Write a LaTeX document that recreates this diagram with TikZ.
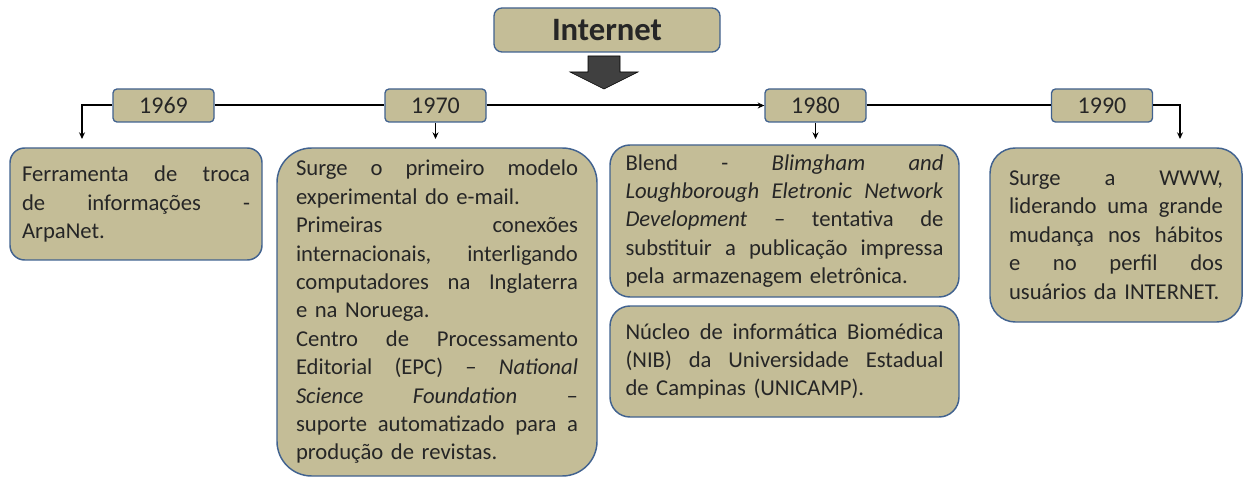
\documentclass[tikz,border=0pt]{standalone}
\usepackage{fontspec}
\setmainfont{Carlito}
\usetikzlibrary{arrows.meta}
\definecolor{tanfill}{HTML}{C4BD97}
\definecolor{bord}{HTML}{41628F}
\definecolor{txt}{HTML}{262626}
\definecolor{arrowgray}{HTML}{404040}
\newlength{\jw}
\newcommand{\jl}[1]{{\spaceskip=0pt\xspaceskip=0pt\makebox[\jw][s]{#1}}}
\begin{document}
\begin{tikzpicture}[x=0.75pt,y=-0.75pt,
  yearbox/.style={draw=bord, fill=tanfill, line width=1pt, rounded corners=3pt,
    minimum width=75.75pt, minimum height=24.75pt, inner sep=0pt, text=txt,
    font=\fontsize{18}{20}\selectfont},
  infobox/.style={draw=bord, fill=tanfill, line width=1.1pt, text=txt,
    font=\fontsize{17}{21.3}\selectfont, align=left, inner sep=0pt,
    text width=#1, execute at begin node={\setlength{\jw}{#1}}},
  mainline/.style={line width=1.5pt, black},
  tip/.style={-{Stealth[length=5pt,width=4.5pt]}},
  droparrow/.style={line width=0.8pt, tip}
]
\useasboundingbox (0,0) rectangle (1245,477);

% title
\node[draw=bord, fill=tanfill, line width=1pt, rounded corners=6pt,
  minimum width=169.5pt, minimum height=33pt, inner sep=0pt, text=txt,
  font=\fontsize{24.5}{27}\selectfont\bfseries] (title) at (607,30) {Internet};

% block arrow
\fill[arrowgray, draw=black, line width=0.4pt]
  (588,56) -- (620,56) -- (620,72) -- (638,72) -- (604,89) -- (570,72) -- (588,72) -- cycle;

% year boxes
\node[yearbox] (y69) at (163.5,105.5) {1969};
\node[yearbox] (y70) at (435.5,105.5) {1970};
\node[yearbox] (y80) at (815.5,105.5) {1980};
\node[yearbox] (y90) at (1102,105.5) {1990};

% info boxes
\node[infobox=171pt, minimum width=189pt, minimum height=84pt,
  rounded corners=11pt] (b69) at (136,204)
  {\jl{Ferramenta de troca}\\ \jl{de informações -}\\ ArpaNet.};

\node[infobox=211.5pt, minimum width=240pt, minimum height=246pt,
  rounded corners=26pt] (b70) at (437,312)
  {\jl{Surge o primeiro modelo}\\
   experimental do e-mail.\\
   \jl{Primeiras conexões}\\
   \jl{internacionais, interligando}\\
   \jl{computadores na Inglaterra}\\
   e na Noruega.\\
   \jl{Centro de Processamento}\\
   \jl{Editorial (EPC) – \textit{National}}\\
   \jl{\textit{Science} \textit{Foundation} –}\\
   \jl{suporte automatizado para a}\\
   produção de revistas.};

\node[infobox=238.5pt, minimum width=261.75pt, minimum height=114pt,
  rounded corners=15pt] (b80) at (784.5,221)
  {\jl{Blend - \textit{Blimgham} \textit{and}}\\
   \jl{\textit{Loughborough} \textit{Eletronic} \textit{Network}}\\
   \jl{\textit{Development} – tentativa de}\\
   \jl{substituir a publicação impressa}\\
   pela armazenagem eletrônica.};

\node[infobox=238.5pt, minimum width=261.75pt, minimum height=83.25pt,
  rounded corners=15pt] (b80b) at (784.5,361.5)
  {\jl{Núcleo de informática Biomédica}\\
   \jl{(NIB) da Universidade Estadual}\\
   de Campinas (UNICAMP).};

\node[infobox=160.5pt, minimum width=189pt, minimum height=130.5pt,
  rounded corners=19pt] (b90) at (1116,235)
  {\jl{Surge a WWW,}\\
   \jl{liderando uma grande}\\
   \jl{mudança nos hábitos}\\
   \jl{e no perfil dos}\\
   usuários da INTERNET.};

% connectors
\coordinate (a69) at (82,139);
\coordinate (a70) at (435.5,139);
\coordinate (a80) at (815.5,139);
\coordinate (a90) at (1180,139);
\draw[mainline, tip] (y69.west) -| (a69);
\draw[mainline] (y69.east) -- (y70.west);
\draw[mainline, tip] (y70.east) -- (y80.west);
\draw[mainline] (y80.east) -- (y90.west);
\draw[mainline, tip] (y90.east) -| (a90);
\draw[droparrow] (y70.south) -- (a70);
\draw[droparrow] (y80.south) -- (a80);
\end{tikzpicture}
\end{document}
